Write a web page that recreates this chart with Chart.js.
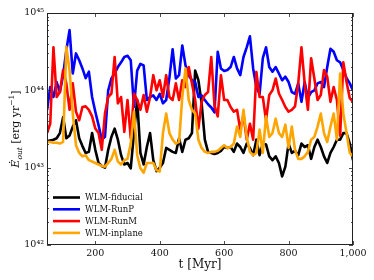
<!DOCTYPE html>
<html>
<head>
<meta charset="utf-8">
<script src="https://cdn.jsdelivr.net/npm/chart.js@4.4.1/dist/chart.umd.min.js"></script>
<style>
    html, body { margin: 0; padding: 0; background: #ffffff; }
    #wrap { width: 374px; height: 280px; }
</style>
</head>
<body>
<div id="wrap"><canvas id="outflowChart"></canvas></div>
<script>
// time in Myr
const times = [
    50, 60, 70, 80, 90, 100, 110, 120, 130, 140, 150, 160, 170, 180, 190, 200,
    210, 220, 230, 240, 250, 260, 270, 280, 290, 300, 310, 320, 330, 340, 350, 360,
    370, 380, 390, 400, 410, 420, 430, 440, 450, 460, 470, 480, 490, 500, 510, 520,
    530, 540, 550, 560, 570, 580, 590, 600, 610, 620, 630, 640, 650, 660, 670, 680,
    690, 700, 710, 720, 730, 740, 750, 760, 770, 780, 790, 800, 810, 820, 830, 840,
    850, 860, 870, 880, 890, 900, 910, 920, 930, 940, 950, 960, 970, 980, 990, 1000
];

// outflow energy rates, in units of 1e43 erg/yr
const fiducial = [
    2.2, 2.25, 2.3, 2.4, 2.8, 4.5, 2.4, 2.6, 3.4, 4.1, 2.4, 1.9, 1.55, 1.6, 2.8, 1.7,
    1.15, 1.05, 1.0, 1.7, 2.5, 3.2, 2.3, 1.45, 1.1, 1.15, 0.98, 2.8, 7.5, 1.55, 1.1, 1.85,
    2.8, 1.25, 0.9, 1.0, 1.15, 1.8, 1.7, 1.6, 1.55, 2.4, 1.6, 2.3, 2.4, 2.8, 18, 13.5,
    6.8, 2.3, 1.6, 1.55, 1.5, 1.55, 1.65, 1.85, 1.8, 1.85, 1.6, 2.05, 1.85, 1.55, 2.05, 1.8,
    1.45, 2.3, 1.45, 2.05, 2.0, 1.4, 1.25, 1.4, 1.15, 0.77, 1.03, 2.05, 1.55, 1.65, 1.45, 2.05,
    1.85, 1.95, 1.3, 1.85, 2.3, 1.85, 1.4, 1.15, 1.55, 1.85, 2.3, 2.3, 2.8, 2.8, 2.05, 1.25
];
const runP = [
    5.5, 11, 8.2, 12.8, 9.5, 15.7, 33, 60, 16.5, 30, 24.5, 19.2, 14.4, 17.4, 8.2, 5.3,
    3.55, 2.3, 2.5, 10, 14.2, 16.5, 20, 23, 27, 28, 24.5, 6.1, 18, 22, 21, 7.5,
    8.2, 8.6, 7.5, 9, 6.8, 7.5, 14.5, 34, 14.2, 15.7, 38, 21, 15.7, 13.5, 12.8, 8.2,
    8.6, 7.5, 6.6, 6, 5.2, 31.5, 19.2, 17.8, 18.3, 20, 27, 19.2, 15.7, 27, 36, 50,
    19.2, 11, 9, 26, 36, 20, 17.4, 20, 16.5, 13.5, 15, 12.8, 9.5, 9, 12.3, 7.1,
    12.8, 7.9, 9.5, 10, 12.3, 12.8, 11, 20, 34.5, 31.5, 24.5, 23, 18.3, 14.4, 12.3, 10
];
const runM = [
    2.8, 3.7, 36, 8.2, 9.5, 18.3, 12.3, 5.6, 12.3, 5.3, 4.1, 6.1, 6.2, 5.6, 4.6, 3.2,
    2.8, 1.7, 5.0, 8.2, 9.1, 27, 6.8, 8.2, 2.9, 7.5, 2.4, 9.1, 7.5, 5.6, 8.7, 5.3,
    8.2, 15.7, 10, 13.5, 8.2, 15.7, 8.2, 7.5, 12.3, 7.5, 13.5, 11, 20, 12.3, 7.5, 3.2,
    7.1, 8.7, 9.5, 27, 6.4, 4.6, 15.7, 7.5, 7.5, 6.1, 5.3, 5.6, 3.1, 4.8, 2.3, 3.7,
    2.3, 17.3, 8.2, 8.2, 4.1, 8.7, 10, 14.2, 9.1, 7.5, 6.1, 5.3, 5.6, 6.2, 12.3, 36,
    12.3, 5.6, 26, 14.2, 7.5, 8.7, 18.3, 15, 7.1, 11, 7.5, 2.6, 23, 12.8, 7.9, 7.1
];
const inplane = [
    2.15, 2.15, 2.1, 2.1, 2.05, 2.15, 36.5, 18.3, 5.0, 1.95, 1.55, 1.4, 1.45, 1.25, 1.2, 1.15,
    1.1, 1.05, 1.03, 1.15, 1.3, 1.7, 1.2, 1.1, 1.25, 1.3, 2.05, 5.3, 1.45, 0.98, 0.86, 1.15,
    1.15, 1.15, 0.93, 0.89, 2.8, 5.0, 2.8, 2.3, 2.05, 2.15, 8.2, 19.2, 7.5, 5.6, 5.0, 2.3,
    1.8, 1.6, 1.55, 1.6, 1.6, 1.65, 1.8, 1.95, 1.8, 1.85, 2.05, 3.4, 2.5, 5.6, 2.5, 1.6,
    1.45, 1.55, 3.1, 1.55, 4.6, 2.5, 2.8, 4.3, 2.8, 2.5, 3.6, 1.8, 3.4, 1.7, 1.3, 1.3,
    1.4, 1.6, 2.3, 2.5, 3.4, 5.0, 2.8, 2.15, 3.4, 5.0, 2.3, 16.5, 5.0, 2.8, 1.55, 1.4
];

const seriesNames = ["WLM-fiducial", "WLM-RunP", "WLM-RunM", "WLM-inplane"];
const seriesColors = ["#000000", "#0000ff", "#ff0000", "#ffa500"];

const xTickValues = [200, 400, 600, 800, 1000];
const yTickValues = [0.1, 1, 10, 100];
const yTickLabels = ["10\u2074\u00b2", "10\u2074\u00b3", "10\u2074\u2074", "10\u2074\u2075"];
const yMinorFactors = [2, 3, 4, 5, 6, 7, 8, 9];

const serifFont = "'DejaVu Serif', serif";

function toPoints(values) {
    return values.map(function (v, i) {
        return { x: times[i], y: v };
    });
}

// frame, inward ticks on all four sides, y title and legend
const axesDecorPlugin = {
    id: "axesDecor",
    afterDatasetsDraw: function (chart) {
        const ctx = chart.ctx;
        const area = chart.chartArea;
        const xs = chart.scales.x;
        const ys = chart.scales.y;

        ctx.save();
        ctx.strokeStyle = "#222222";
        ctx.lineWidth = 1;
        ctx.strokeRect(area.left + 0.5, area.top + 0.5, area.right - area.left - 1, area.bottom - area.top - 1);

        ctx.lineWidth = 0.8;
        ctx.beginPath();
        xTickValues.forEach(function (v) {
            const px = Math.round(xs.getPixelForValue(v)) + 0.5;
            ctx.moveTo(px, area.bottom);
            ctx.lineTo(px, area.bottom - 4);
            ctx.moveTo(px, area.top);
            ctx.lineTo(px, area.top + 4);
        });
        yTickValues.forEach(function (v) {
            const py = Math.round(ys.getPixelForValue(v)) + 0.5;
            ctx.moveTo(area.left, py);
            ctx.lineTo(area.left + 4, py);
            ctx.moveTo(area.right, py);
            ctx.lineTo(area.right - 4, py);
        });
        yTickValues.slice(0, -1).forEach(function (d) {
            yMinorFactors.forEach(function (m) {
                const py = Math.round(ys.getPixelForValue(d * m)) + 0.5;
                ctx.moveTo(area.left, py);
                ctx.lineTo(area.left + 2, py);
                ctx.moveTo(area.right, py);
                ctx.lineTo(area.right - 2, py);
            });
        });
        ctx.stroke();
        ctx.restore();
    },
    afterDraw: function (chart) {
        const ctx = chart.ctx;
        const area = chart.chartArea;

        // y axis title: E-dot_out [erg yr^-1]
        const parts = [
            { text: "\u0116", font: "italic 11px " + serifFont, dy: 0 },
            { text: "out", font: "italic 7.5px " + serifFont, dy: 3 },
            { text: " [erg yr", font: "11px " + serifFont, dy: 0 },
            { text: "\u22121", font: "7.5px " + serifFont, dy: -5 },
            { text: "]", font: "11px " + serifFont, dy: 0 }
        ];
        ctx.save();
        ctx.fillStyle = "#111111";
        ctx.textBaseline = "alphabetic";
        let total = 0;
        parts.forEach(function (p) {
            ctx.font = p.font;
            p.w = ctx.measureText(p.text).width;
            total += p.w;
        });
        ctx.translate(19, 129);
        ctx.rotate(-Math.PI / 2);
        let cx = -total / 2;
        parts.forEach(function (p) {
            ctx.font = p.font;
            ctx.fillText(p.text, cx, p.dy);
            cx += p.w;
        });
        ctx.restore();

        // legend, lower left inside the axes
        ctx.save();
        ctx.font = "8.5px " + serifFont;
        ctx.textBaseline = "middle";
        ctx.fillStyle = "#111111";
        chart.data.datasets.forEach(function (ds, i) {
            const y = 197.5 + i * 11.8;
            ctx.strokeStyle = ds.borderColor;
            ctx.lineWidth = 2.6;
            ctx.beginPath();
            ctx.moveTo(area.left + 6, y);
            ctx.lineTo(area.left + 33, y);
            ctx.stroke();
            ctx.fillText(ds.label, area.left + 38, y + 0.5);
        });
        ctx.restore();
    }
};

const ctx = document.getElementById("outflowChart");

new Chart(ctx, {
    type: "line",
    plugins: [axesDecorPlugin],
    data: {
        datasets: [
            { label: seriesNames[0], data: toPoints(fiducial), borderColor: seriesColors[0], order: 3 },
            { label: seriesNames[1], data: toPoints(runP), borderColor: seriesColors[1], order: 2 },
            { label: seriesNames[2], data: toPoints(runM), borderColor: seriesColors[2], order: 1 },
            { label: seriesNames[3], data: toPoints(inplane), borderColor: seriesColors[3], order: 0 }
        ]
    },
    options: {
        responsive: true,
        maintainAspectRatio: false,
        animation: false,
        layout: {
            padding: { top: 13, right: 21, bottom: 0, left: 0 }
        },
        elements: {
            point: { radius: 0 },
            line: {
                borderWidth: 2.6,
                tension: 0,
                borderJoinStyle: "round",
                fill: false
            }
        },
        plugins: {
            legend: { display: false },
            tooltip: { enabled: false }
        },
        scales: {
            x: {
                type: "linear",
                min: 50,
                max: 1000,
                afterBuildTicks: function (scale) {
                    scale.ticks = xTickValues.map(function (v) { return { value: v }; });
                },
                afterFit: function (scale) {
                    scale.height = 35;
                },
                grid: { display: false, drawTicks: false },
                border: { display: false },
                ticks: {
                    color: "#111111",
                    padding: 3,
                    maxRotation: 0,
                    font: { family: serifFont, size: 9.5 }
                },
                title: {
                    display: true,
                    text: "t [Myr]",
                    color: "#111111",
                    padding: { top: 0, bottom: 8 },
                    font: { family: serifFont, size: 12 }
                }
            },
            y: {
                type: "logarithmic",
                min: 0.1,
                max: 100,
                afterBuildTicks: function (scale) {
                    scale.ticks = yTickValues.map(function (v) { return { value: v }; });
                },
                afterFit: function (scale) {
                    scale.width = 47;
                },
                grid: { display: false, drawTicks: false },
                border: { display: false },
                ticks: {
                    color: "#111111",
                    padding: 3,
                    font: { family: serifFont, size: 9.5 },
                    callback: function (value) {
                        const i = yTickValues.indexOf(value);
                        return i >= 0 ? yTickLabels[i] : "";
                    }
                }
            }
        }
    }
});
</script>
</body>
</html>
